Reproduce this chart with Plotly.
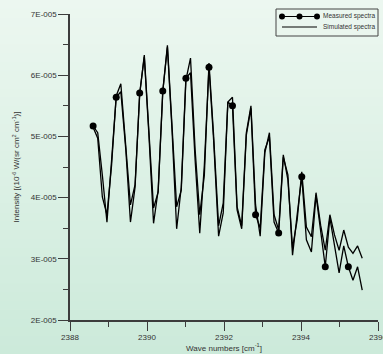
import plotly.graph_objects as go

# Wavenumber grid [cm-1]
wavenumber = [2388.60, 2388.72, 2388.84, 2388.96, 2389.08, 2389.20, 2389.32, 2389.45, 2389.57, 2389.69,
              2389.81, 2389.93, 2390.05, 2390.17, 2390.29, 2390.41, 2390.53, 2390.65, 2390.77, 2390.89,
              2391.01, 2391.13, 2391.25, 2391.37, 2391.49, 2391.61, 2391.73, 2391.86, 2391.98, 2392.10,
              2392.22, 2392.34, 2392.46, 2392.58, 2392.70, 2392.82, 2392.94, 2393.06, 2393.18, 2393.30,
              2393.42, 2393.54, 2393.66, 2393.78, 2393.90, 2394.02, 2394.14, 2394.27, 2394.39, 2394.51,
              2394.63, 2394.75, 2394.87, 2394.99, 2395.11, 2395.23, 2395.35, 2395.47, 2395.59]

# Intensities in units of 1E-005
measured_e5 = [5.17, 5.06, 4.37, 3.60, 4.61, 5.64, 5.73, 4.78, 3.60, 4.17,
               5.71, 6.30, 5.02, 3.58, 4.12, 5.74, 6.46, 5.10, 3.49, 4.17,
               5.95, 6.04, 4.61, 3.42, 4.53, 6.13, 4.94, 3.37, 3.75, 5.56,
               5.50, 3.80, 3.49, 5.02, 5.46, 3.72, 3.50, 4.78, 4.99, 3.60,
               3.42, 4.66, 4.37, 3.06, 3.72, 4.34, 3.31, 3.11, 4.04, 3.42,
               2.87, 3.67, 3.23, 2.77, 3.21, 2.87, 2.65, 2.87, 2.49]

simulated_e5 = [5.15, 4.97, 4.01, 3.72, 4.53, 5.66, 5.86, 4.86, 3.88, 4.21,
                5.68, 6.33, 5.10, 3.83, 4.09, 5.73, 6.49, 5.19, 3.85, 4.12,
                5.92, 6.28, 4.78, 3.72, 4.37, 6.20, 5.02, 3.54, 3.91, 5.56,
                5.64, 3.85, 3.54, 5.06, 5.50, 3.88, 3.37, 4.73, 5.06, 3.72,
                3.47, 4.70, 4.29, 3.18, 3.63, 4.42, 3.52, 3.36, 4.08, 3.55,
                3.14, 3.72, 3.39, 3.14, 3.47, 3.19, 3.09, 3.21, 3.01]

marker_step = 5  # measured points shown with a symbol

y_tick_vals_e5 = [2, 3, 4, 5, 6, 7]
y_tick_text = ["2E-005", "3E-005", "4E-005", "5E-005", "6E-005", "7E-005"]
x_tick_vals = [2388, 2390, 2392, 2394, 2396]
x_tick_text = ["2388", "2390", "2392", "2394", "2396"]

legend_names = ["Measured spectra", "Simulated spectra"]

SCALE = 1e-5
meas = [v * SCALE for v in measured_e5]
sim = [v * SCALE for v in simulated_e5]

FONT = "Liberation Sans, Arial, sans-serif"
AX = "#3c3c3c"
TXT = "#333333"

fig = go.Figure()
fig.add_trace(go.Scatter(x=wavenumber, y=sim, mode="lines",
                         line=dict(color="black", width=1.3), showlegend=False))
fig.add_trace(go.Scatter(x=wavenumber, y=meas, mode="lines",
                         line=dict(color="black", width=1.3), showlegend=False))
fig.add_trace(go.Scatter(x=wavenumber[::marker_step], y=meas[::marker_step], mode="markers",
                         marker=dict(color="black", size=7), showlegend=False, cliponaxis=False))

shapes = []
# gradient background
top = (236, 247, 240)
bot = (204, 234, 218)
n = 40
y_lo, y_hi = -34 / 306, 320 / 306
for i in range(n):
    f = i / (n - 1)
    c = tuple(round(bot[k] + (top[k] - bot[k]) * f) for k in range(3))
    y0 = y_lo + (y_hi - y_lo) * i / n
    y1 = y_lo + (y_hi - y_lo) * (i + 1) / n + 0.002
    shapes.append(dict(type="rect", xref="paper", yref="paper", x0=-0.25, x1=1.05,
                       y0=y0, y1=y1, fillcolor="rgb(%d,%d,%d)" % c, line=dict(width=0),
                       layer="below"))

# custom legend
def px2x(p):
    return (p - 70) / 308

def py2y(p):
    return (320 - p) / 306

shapes.append(dict(type="rect", xref="paper", yref="paper", x0=px2x(276), x1=px2x(378),
                   y0=py2y(36), y1=py2y(9), line=dict(color="#444444", width=1)))
for row, yy in enumerate([16.5, 27]):
    shapes.append(dict(type="line", xref="paper", yref="paper", x0=px2x(282), x1=px2x(317),
                       y0=py2y(yy), y1=py2y(yy), line=dict(color="black", width=1.2)))
for mx in [282, 299.5, 317]:
    shapes.append(dict(type="circle", xref="paper", yref="paper", xsizemode="pixel",
                       ysizemode="pixel", xanchor=px2x(mx), yanchor=py2y(16.5),
                       x0=-3, x1=3, y0=-3, y1=3, fillcolor="black", line=dict(color="black", width=0)))

annotations = []
for name, yy in zip(legend_names, [16.5, 27]):
    annotations.append(dict(text=name, xref="paper", yref="paper", x=px2x(321), y=py2y(yy),
                            xanchor="left", yanchor="middle", showarrow=False,
                            font=dict(family=FONT, size=6.5, color=TXT)))

fig.update_layout(
    width=383, height=354,
    margin=dict(l=70, r=5, t=14, b=34, autoexpand=False),
    paper_bgcolor="rgb(220,240,229)",
    plot_bgcolor="rgba(0,0,0,0)",
    shapes=shapes, annotations=annotations,
    showlegend=False,
    font=dict(family=FONT, size=8, color=TXT),
)
fig.update_xaxes(range=[2388, 2396], showgrid=False, zeroline=False, automargin=False,
                 showline=True, linecolor=AX, linewidth=1.5,
                 ticks="outside", ticklen=9, tickwidth=1.3, tickcolor=AX,
                 tickvals=x_tick_vals, ticktext=x_tick_text, ticklabeloverflow="allow",
                 minor=dict(dtick=1, ticks="outside", ticklen=5, tickwidth=1.3, tickcolor=AX, showgrid=False),
                 tickfont=dict(family=FONT, size=8, color=TXT),
                 title=dict(text="Wave numbers [cm<sup>-1</sup>]", standoff=2,
                            font=dict(family=FONT, size=8, color=TXT)))
fig.update_yaxes(range=[2 * SCALE, 7 * SCALE], showgrid=False, zeroline=False, automargin=False,
                 showline=True, linecolor=AX, linewidth=1.5,
                 ticks="outside", ticklen=10, tickwidth=1.3, tickcolor=AX,
                 tickvals=[v * SCALE for v in y_tick_vals_e5], ticktext=y_tick_text,
                 minor=dict(dtick=0.5 * SCALE, ticks="outside", ticklen=5, tickwidth=1.3, tickcolor=AX, showgrid=False),
                 tickfont=dict(family=FONT, size=8, color=TXT),
                 title=dict(text="Intensity [(10<sup>-6</sup> W/(sr cm<sup>2</sup> cm<sup>-1</sup>)]", standoff=10,
                            font=dict(family=FONT, size=8, color=TXT)))

fig.write_html("out.html")
